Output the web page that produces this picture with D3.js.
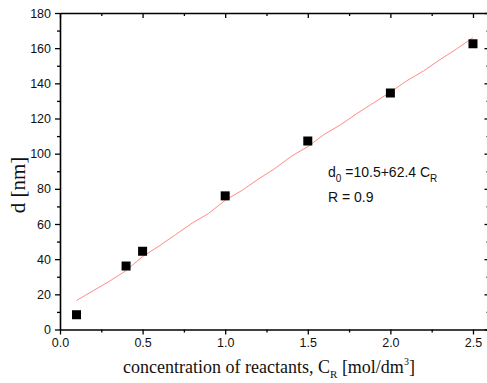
<!DOCTYPE html>
<html><head><meta charset="utf-8">
<script src="https://cdn.jsdelivr.net/npm/d3@7"></script>
<style>body{margin:0;background:#fff}svg{display:block}</style>
</head><body>
<svg id="c" width="487" height="383"></svg>
<script>
const pointX = [0.1, 0.4, 0.5, 1.0, 1.5, 2.0, 2.5];
const pointY = [8.4, 36.1, 44.5, 76.0, 107.2, 134.5, 162.5];
const lineX = [0.1,0.2,0.3,0.4,0.5,0.6,0.7,0.8,0.9,1.0,1.1,1.2,1.3,1.4,1.5,1.6,1.7,1.8,1.9,2.0,2.1,2.2,2.3,2.4,2.5];
const lineY = [16.5,22,27.5,33.5,41.5,47.5,54,60.5,66,73.5,79,85.5,91.5,98.5,104,111,116.5,123,129,135,141.5,147,153.5,159.5,166];
const xTicks = [0.0,0.5,1.0,1.5,2.0,2.5];
const xTickLabels = ["0.0","0.5","1.0","1.5","2.0","2.5"];
const yTicks = [0,20,40,60,80,100,120,140,160,180];

(function(){
const svg = d3.select("#c");
const L=60, R=489.5, T=13, B=329.5;
const x = d3.scaleLinear().domain([0,2.6]).range([L,R]);
const y = d3.scaleLinear().domain([0,180]).range([B,T]);
const g = svg.append("g");

g.append("path")
  .datum(lineX.map((v,i)=>[v,lineY[i]]))
  .attr("fill","none").attr("stroke","#ff8a8a").attr("stroke-width",1)
  .attr("d", d3.line().x(d=>x(d[0])).y(d=>y(d[1])));

const s=9;
g.selectAll("rect.pt").data(pointX.map((v,i)=>[v,pointY[i]])).join("rect")
  .attr("x",d=>x(d[0])-s/2).attr("y",d=>y(d[1])-s/2)
  .attr("width",s).attr("height",s).attr("fill","#000");

const sans = "Liberation Sans, Arial, sans-serif";
const serif = "Liberation Serif, Times New Roman, serif";
const xMinor = d3.range(0.25,2.6,0.5);
const yMinor = d3.range(10,180,20);

const axB = g.append("g").attr("transform",`translate(0,${B})`)
  .call(d3.axisBottom(x).tickValues(xTicks).tickFormat((d,i)=>xTickLabels[i]).tickSizeInner(5).tickSizeOuter(0).tickPadding(4));
axB.append("g").call(d3.axisBottom(x).tickValues(xMinor).tickFormat("").tickSizeInner(3).tickSizeOuter(0))
  .select(".domain").remove();
const axT = g.append("g").attr("transform",`translate(0,${T})`)
  .call(d3.axisBottom(x).tickValues(xTicks).tickFormat("").tickSizeInner(5).tickSizeOuter(0));
axT.append("g").call(d3.axisBottom(x).tickValues(xMinor).tickFormat("").tickSizeInner(3).tickSizeOuter(0))
  .select(".domain").remove();
const axL = g.append("g").attr("transform",`translate(${L},0)`)
  .call(d3.axisLeft(y).tickValues(yTicks).tickSizeInner(5).tickSizeOuter(0).tickPadding(4));
axL.append("g").call(d3.axisLeft(y).tickValues(yMinor).tickFormat("").tickSizeInner(3).tickSizeOuter(0))
  .select(".domain").remove();
const axR = g.append("g").attr("transform",`translate(${R},0)`)
  .call(d3.axisLeft(y).tickValues(yTicks).tickFormat("").tickSizeInner(5).tickSizeOuter(0));
axR.append("g").call(d3.axisLeft(y).tickValues(yMinor).tickFormat("").tickSizeInner(3).tickSizeOuter(0))
  .select(".domain").remove();

g.selectAll(".domain").attr("stroke","#000").attr("stroke-width",1.6);
g.selectAll(".tick line").attr("stroke","#000").attr("stroke-width",1.3);
g.selectAll(".tick text").attr("font-family",sans).attr("font-size",12.5).attr("fill","#111");

svg.append("text").attr("transform","translate(25,185) rotate(-90)")
  .attr("text-anchor","middle").attr("font-family",serif).attr("font-size",21).attr("fill","#111")
  .text("d [nm]");

const xl = svg.append("text").attr("x",269).attr("y",373).attr("text-anchor","middle")
  .attr("font-family",serif).attr("font-size",18).attr("fill","#111");
xl.append("tspan").text("concentration of reactants, C");
xl.append("tspan").attr("font-size",11).attr("dy",5).text("R");
xl.append("tspan").attr("dy",-5).text(" [mol/dm");
xl.append("tspan").attr("font-size",10).attr("dy",-8).text("3");
xl.append("tspan").attr("dy",8).text("]");

const an = svg.append("text").attr("x",328).attr("y",177)
  .attr("font-family",sans).attr("font-size",14).attr("fill","#111");
an.append("tspan").text("d");
an.append("tspan").attr("font-size",10).attr("dy",5).text("0");
an.append("tspan").attr("dy",-5).text(" =10.5+62.4 C");
an.append("tspan").attr("font-size",10).attr("dy",5).text("R");
svg.append("text").attr("x",328).attr("y",202)
  .attr("font-family",sans).attr("font-size",14).attr("fill","#111").text("R = 0.9");
})();
</script>
</body></html>
